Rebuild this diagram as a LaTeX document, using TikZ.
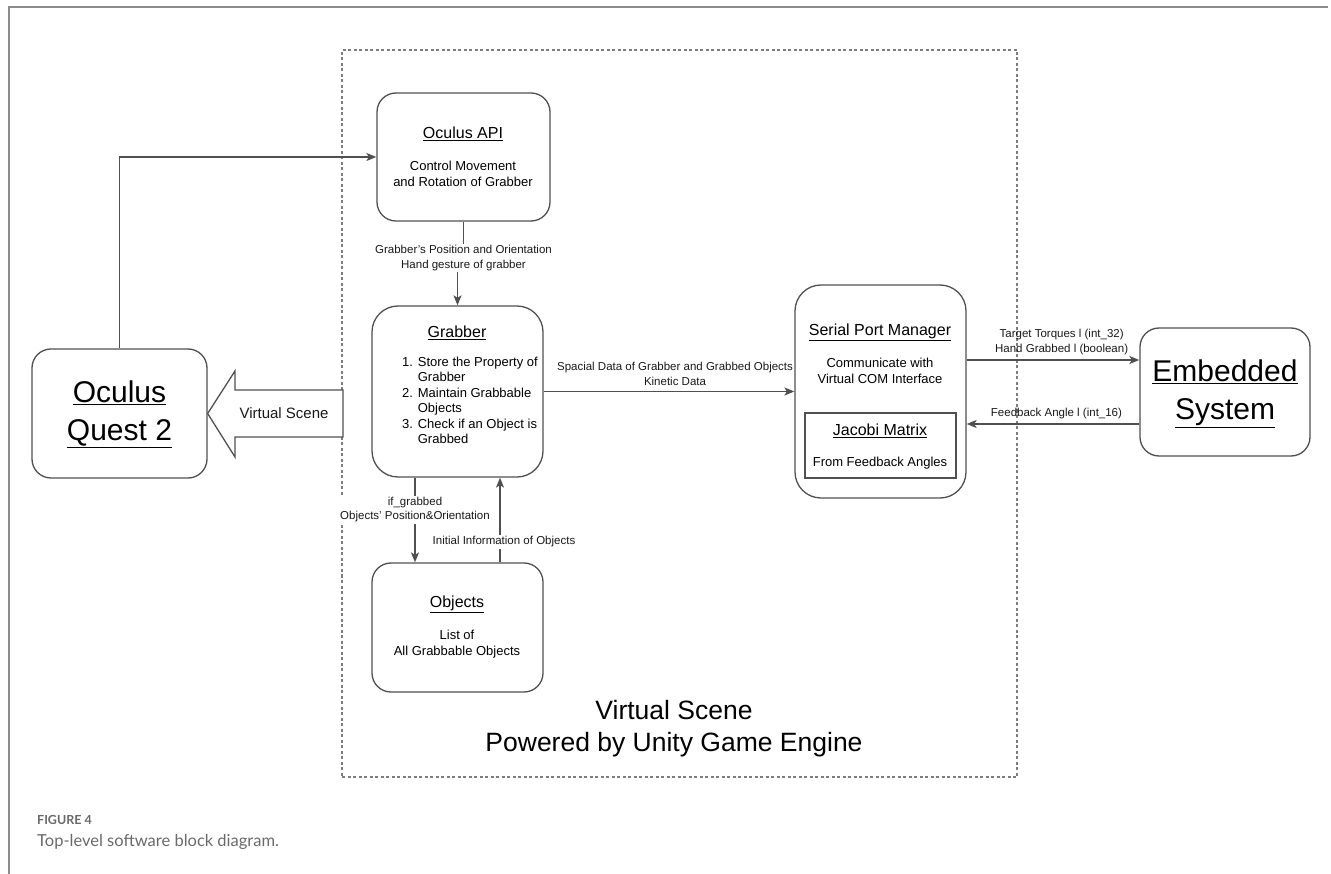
\documentclass[tikz,border=0pt]{standalone}
\usepackage{fontspec}
\setmainfont{Liberation Sans}
\newfontfamily\capfont{Lato}
\usetikzlibrary{arrows.meta}
\definecolor{boxgray}{RGB}{80,80,80}
\definecolor{framegray}{RGB}{140,140,140}
\definecolor{dashgray}{RGB}{125,125,125}
\definecolor{capgray}{RGB}{105,105,105}
\tikzset{
  blk/.style={draw=boxgray, line width=1.3pt, rounded corners=19pt, minimum width=173pt, minimum height=128pt, inner sep=0pt},
  bigblk/.style={blk, rounded corners=26pt, minimum width=171pt},
  conn/.style={draw=boxgray, line width=1.3pt, -{Stealth[length=10pt,width=8pt,inset=2.5pt]}},
  lbl/.style={font=\fontsize{11.5}{14.5}\selectfont, text=black!90, align=center, inner sep=1.5pt},
  ttl/.style={font=\fontsize{16}{19}\selectfont, inner sep=0pt},
  body/.style={font=\fontsize{13}{15.5}\selectfont, align=center, inner sep=0pt},
  bigtxt/.style={font=\fontsize{30}{38}\selectfont, align=center, inner sep=0pt}
}

\begin{document}
\begin{tikzpicture}[x=1pt, y=-1pt]
\useasboundingbox (0,0) rectangle (1331,874);
\draw[framegray, line width=2pt] (9,874) -- (9,7) -- (1328,7);
\node[draw=dashgray, line width=1.5pt, dash pattern=on 3pt off 2.5pt, minimum width=675pt, minimum height=727pt] (scene) at (679.5,413.5) {};
\node[font=\fontsize{26.5}{32}\selectfont, align=center] (sceneT) at (674,729) {Virtual Scene\\Powered by Unity Game Engine};

\node[blk] (api) at (463.5,157) {};
\node[ttl] (apiT) at (463,134) {\underline{Oculus API}};
\node[body] (apiB) at (463,174) {Control Movement\\and Rotation of Grabber};

\node[bigblk, minimum height=171pt] (grab) at (457.5,391.5) {};
\node[ttl] (grabT) at (457,333) {\underline{Grabber}};
\node[body, anchor=west, align=left] (grabB) at (402,400.5) {1. Store the Property of\\\phantom{1. }Grabber\\2. Maintain Grabbable\\\phantom{2. }Objects\\3. Check if an Object is\\\phantom{3. }Grabbed};

\node[blk, minimum width=171pt, minimum height=129pt] (obj) at (457.5,627.5) {};
\node[ttl] (objT) at (457,604) {\underline{Objects}};
\node[body] (objB) at (457,644) {List of\\All Grabbable Objects};

\node[bigblk, minimum height=213pt] (serial) at (880.5,391.5) {};
\node[ttl] (serT) at (880,332) {\underline{Serial Port Manager}};
\node[body] (serB) at (880,371) {Communicate with\\Virtual COM Interface};
\node[draw=boxgray, line width=1.1pt, minimum width=151pt, minimum height=65pt] (jacobi) at (880.5,445.5) {};
\node[ttl] (jacT) at (880,431) {\underline{Jacobi Matrix}};
\node[body] (jacB) at (880,463) {From Feedback Angles};

\node[blk, minimum width=170pt] (emb) at (1225,392) {};
\node[bigtxt] (embT) at (1225,394) {\underline{Embedded}\\\underline{System}};

\node[blk, minimum width=175pt, minimum height=129pt] (quest) at (119.5,413.5) {};
\node[bigtxt] (questT) at (119.5,414) {\underline{Oculus}\\\underline{Quest 2}};

\draw[draw=boxgray, line width=1.3pt, fill=white] (quest.east) -- (235,371) -- (235,390) -- (343,390) -- (343,437) -- (235,437) -- (235,457) -- cycle;
\node[font=\fontsize{15}{18}\selectfont, text=black!90] (vsT) at (284,413.5) {Virtual Scene};

\draw[conn] (quest.north) |- (api.west);
\draw[conn] (api.south) -- ++(0,36.5) node[lbl, fill=white] (apiL) {Grabber's Position and Orientation\\Hand gesture of grabber} -| (grab.north);
\draw[conn] (grab.east) -- node[lbl, above=4pt, pos=0.524] (grabL) {Spacial Data of Grabber and Grabbed Objects\\Kinetic Data} (serial.west);
\draw[conn] ([xshift=-42.5pt]grab.south) -- node[lbl, fill=white, pos=0.378] (ifL) {if\_grabbed\\Objects' Position\&Orientation} ([xshift=-42.5pt]obj.north);
\draw[conn] ([xshift=42.5pt]obj.north) -- node[lbl, fill=white, pos=0.244, xshift=4pt] (initL) {Initial Information of Objects} ([xshift=42.5pt]grab.south);
\draw[conn] ([yshift=31.5pt]serial.east) -- node[lbl, above=3pt, pos=0.55] (torqL) {Target Torques l (int\_32)\\Hand Grabbed l (boolean)} ([yshift=31.5pt]serial.east -| emb.west);
\draw[conn] ([yshift=-32pt]emb.west) -- node[lbl, above=3pt, pos=0.48] (fbL) {Feedback Angle l (int\_16)} ([yshift=-32pt]emb.west -| serial.east);

\node[anchor=west, inner sep=0pt, font=\capfont\bfseries\fontsize{12.5}{15}\selectfont, text=capgray] (figN) at (37,820) {FIGURE 4};
\node[anchor=west, inner sep=0pt, font=\capfont\fontsize{16.5}{20}\selectfont, text=capgray] (figC) at (37,842) {Top-level software block diagram.};
\end{tikzpicture}
\end{document}
